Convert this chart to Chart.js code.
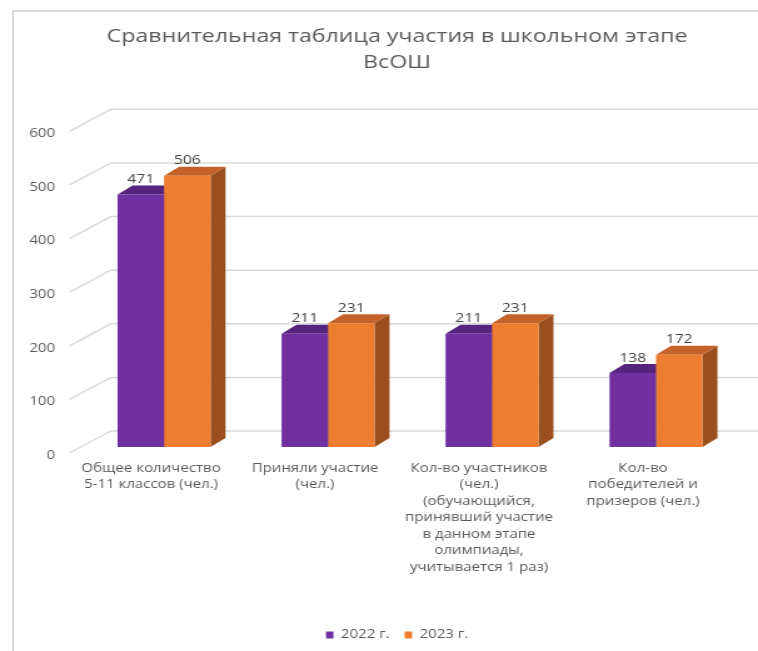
<!DOCTYPE html>
<html>
<head>
<meta charset="utf-8">
<script src="https://cdn.jsdelivr.net/npm/chart.js@4.4.1/dist/chart.umd.min.js"></script>
<style>
  html, body { margin: 0; padding: 0; background: #fff; overflow: hidden; }
  #frame { position: absolute; left: 12px; top: 10px; width: 800px; height: 700px;
           border-left: 2px solid #d9d9d9; border-top: 2px solid #d9d9d9; }
  /* the reference picture is stretched sideways, so the canvas is too */
  #chart { position: absolute; left: 0; top: 0; transform-origin: 0 0; transform: scaleX(1.2508); }
</style>
</head>
<body>
<div id="frame"></div>
<canvas id="chart" width="606" height="651"></canvas>
<script>
// chart data
var categories = [
    ['Общее количество', '5-11 классов (чел.)'],
    ['Приняли участие', '(чел.)'],
    ['Кол-во участников', '(чел.)', '(обучающийся,', 'принявший участие', 'в данном этапе', 'олимпиады,', 'учитывается 1 раз)'],
    ['Кол-во', 'победителей и', 'призеров (чел.)']
];
var values2022 = [471, 211, 211, 138];
var values2023 = [506, 231, 231, 172];
var seriesNames = ['2022 г.', '2023 г.'];
var yTicks = [0, 100, 200, 300, 400, 500, 600];

var FONT = '"Open Sans", "Noto Sans", sans-serif';
var TEXT_COLOR = '#595959';
// colours for front / top / side faces
var faceColors = [
    { front: '#7030a0', top: '#56237f', side: '#4e1f73' },
    { front: '#ed7d31', top: '#c4622a', side: '#9b4f1e' }
];
// 3d depth of the bars
var BAR_DX = 12, BAR_DY = -9;

var threeD = {
    id: 'threeD',
    beforeDatasetsDraw: function (chart) {
        var ctx = chart.ctx;
        var yScale = chart.scales.y;
        var area = chart.chartArea;
        ctx.save();
        // back wall grid + side wall diagonals
        ctx.strokeStyle = '#d9d9d9';
        ctx.lineWidth = 1.5;
        yTicks.forEach(function (v) {
            var p = yScale.getPixelForValue(v);
            ctx.beginPath();
            ctx.moveTo(area.left - 10, p + 6);
            ctx.lineTo(area.left + 23, p - 16);
            ctx.lineTo(chart.width, p - 16);
            ctx.stroke();
        });
        // top and side faces of every bar
        chart.data.datasets.forEach(function (ds, di) {
            var meta = chart.getDatasetMeta(di);
            meta.data.forEach(function (bar) {
                var l = bar.x - bar.width / 2, r = bar.x + bar.width / 2;
                var t = bar.y, b = bar.base;
                ctx.fillStyle = faceColors[di].side;
                ctx.beginPath();
                ctx.moveTo(r, t);
                ctx.lineTo(r + BAR_DX, t + BAR_DY);
                ctx.lineTo(r + BAR_DX, b + BAR_DY);
                ctx.lineTo(r, b);
                ctx.closePath();
                ctx.fill();
                ctx.fillStyle = faceColors[di].top;
                ctx.beginPath();
                ctx.moveTo(l, t);
                ctx.lineTo(l + BAR_DX, t + BAR_DY);
                ctx.lineTo(r + BAR_DX, t + BAR_DY);
                ctx.lineTo(r, t);
                ctx.closePath();
                ctx.fill();
            });
        });
        ctx.restore();
    },
    afterDatasetsDraw: function (chart) {
        var ctx = chart.ctx;
        ctx.save();
        ctx.fillStyle = '#404040';
        ctx.font = '12.5px ' + FONT;
        ctx.textAlign = 'center';
        ctx.textBaseline = 'middle';
        chart.data.datasets.forEach(function (ds, di) {
            chart.getDatasetMeta(di).data.forEach(function (bar, i) {
                ctx.fillText(String(ds.data[i]), bar.x, bar.y - 15);
            });
        });
        ctx.restore();
    }
};

new Chart(document.getElementById('chart'), {
    type: 'bar',
    data: {
        labels: categories,
        datasets: [
            { label: seriesNames[0], data: values2022, backgroundColor: faceColors[0].front },
            { label: seriesNames[1], data: values2023, backgroundColor: faceColors[1].front }
        ]
    },
    options: {
        responsive: false,
        animation: false,
        devicePixelRatio: 1,
        layout: { padding: { left: 45, right: 16, top: 0, bottom: 0 } },
        datasets: { bar: { categoryPercentage: 0.567, barPercentage: 1 } },
        plugins: {
            title: {
                display: true,
                text: ['Сравнительная таблица участия в школьном этапе', 'ВсОШ'],
                color: TEXT_COLOR,
                font: { family: FONT, size: 18.5, weight: 'normal', lineHeight: 1.4 },
                padding: { top: 24, bottom: 49.5 }
            },
            legend: {
                position: 'bottom',
                labels: {
                    color: TEXT_COLOR,
                    font: { family: FONT, size: 12 },
                    boxWidth: 6,
                    boxHeight: 7,
                    padding: 12
                }
            },
            tooltip: { enabled: false }
        },
        scales: {
            x: {
                grid: { display: false, drawTicks: false },
                border: { display: false },
                ticks: {
                    color: TEXT_COLOR,
                    font: { family: FONT, size: 12, lineHeight: 1.375 },
                    padding: 13,
                    labelOffset: -10.4,
                    maxRotation: 0,
                    autoSkip: false
                },
                afterFit: function (s) { s.height = 170; }
            },
            y: {
                min: 0,
                max: 600,
                grid: { display: false, drawTicks: false },
                border: { display: false },
                ticks: {
                    stepSize: 100,
                    color: TEXT_COLOR,
                    font: { family: FONT, size: 12 },
                    padding: 21.6,
                    labelOffset: 8.5
                },
                afterFit: function (s) {
                    s.width = 20.6;
                    // labels sit left of the narrow axis box, so do not clip them
                    s._computeLabelArea = function () { return null; };
                }
            }
        }
    },
    plugins: [threeD]
});
</script>
</body>
</html>
